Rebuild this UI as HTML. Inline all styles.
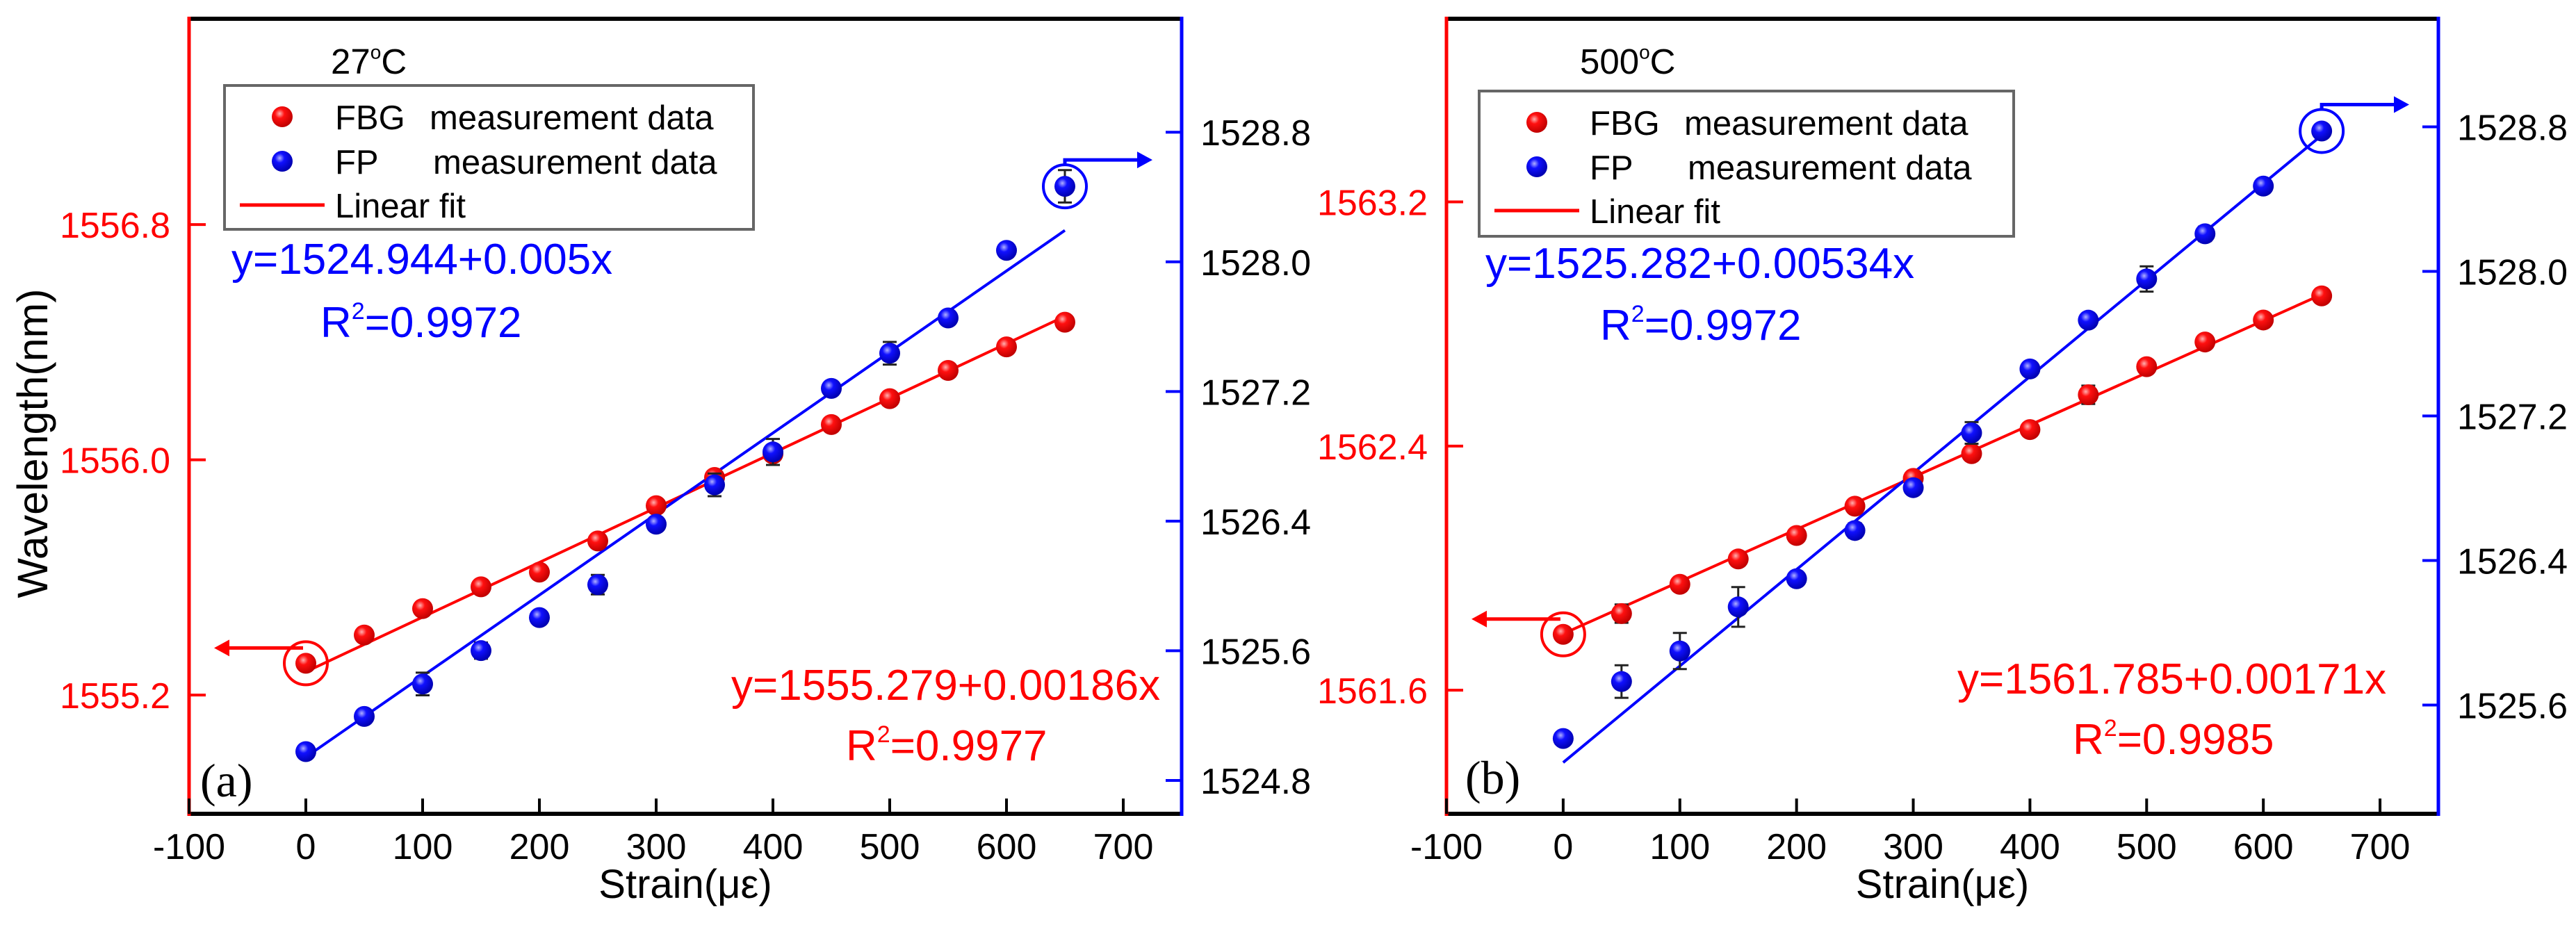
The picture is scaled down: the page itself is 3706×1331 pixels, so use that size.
<!DOCTYPE html>
<html><head><meta charset="utf-8"><title>FBG/FP strain</title>
<style>html,body{margin:0;padding:0;background:#fff;}svg{display:block;font-family:"Liberation Sans",Arial,sans-serif;}</style>
</head><body>
<svg id="chart" xmlns="http://www.w3.org/2000/svg" width="3706" height="1331" viewBox="0 0 3706 1331">
<defs>
<radialGradient id="gRed" cx="0.38" cy="0.35" r="0.65"><stop offset="0" stop-color="#ffb0b0"/><stop offset="0.35" stop-color="#ff1010"/><stop offset="1" stop-color="#c00000"/></radialGradient>
<radialGradient id="gBlue" cx="0.38" cy="0.35" r="0.65"><stop offset="0" stop-color="#b0b0ff"/><stop offset="0.35" stop-color="#1010ff"/><stop offset="1" stop-color="#0000b0"/></radialGradient>
</defs>
</svg>
<script>
const strain = [0,50,100,150,200,250,300,350,400,450,500,550,600,650];
const xTicks = [-100,0,100,200,300,400,500,600,700];
// panel (a) 27 C
const fbgA = [1555.308,1555.404,1555.494,1555.568,1555.618,1555.724,1555.844,1555.94,1556.02,1556.12,1556.208,1556.304,1556.384,1556.468];
const fbgErrA = [0.015,0.012,0.015,0.015,0.015,0.015,0.015,0.02,0.02,0.02,0.015,0.015,0.015,0.015];
const fpA = [1524.978,1525.195,1525.395,1525.601,1525.805,1526.008,1526.381,1526.624,1526.827,1527.219,1527.436,1527.654,1528.071,1528.466];
const fpErrA = [0.02,0.03,0.07,0.05,0.03,0.06,0.04,0.07,0.08,0.02,0.07,0.03,0.02,0.1];
const fitFbgA = [1555.279,0.00186];
const fitFpA = [1524.944,0.005];
const leftTicksA = [1555.2,1556.0,1556.8];
const rightTicksA = [1524.8,1525.6,1526.4,1527.2,1528.0,1528.8];
// panel (b) 500 C
const fbgB = [1561.783,1561.851,1561.947,1562.03,1562.107,1562.203,1562.294,1562.375,1562.454,1562.568,1562.66,1562.741,1562.813,1562.892];
const fbgErrB = [0.02,0.03,0.02,0.02,0.02,0.02,0.02,0.02,0.02,0.03,0.02,0.02,0.02,0.02];
const fpB = [1525.415,1525.73,1525.899,1526.143,1526.299,1526.566,1526.803,1527.106,1527.46,1527.73,1527.958,1528.208,1528.472,1528.777];
const fpErrB = [0.03,0.09,0.1,0.11,0.03,0.04,0.03,0.06,0.02,0.02,0.07,0.04,0.02,0.03];
const fitFbgB = [1561.785,0.00171];
const fitFpB = [1525.282,0.00534];
const leftTicksB = [1561.6,1562.4,1563.2];
const rightTicksB = [1525.6,1526.4,1527.2,1528.0,1528.8];

const NS = "http://www.w3.org/2000/svg";
const svg = document.getElementById("chart");
function mk(tag, attrs, parent, txt) {
  const e = document.createElementNS(NS, tag);
  for (const k in attrs) e.setAttribute(k, attrs[k]);
  if (txt !== undefined) e.textContent = txt;
  (parent || svg).appendChild(e);
  return e;
}
function supText(parent, x, y, size, color, pre, sup, post, anchor) {
  const t = mk("text", {x:x, y:y, "font-size":size, fill:color, "text-anchor":anchor||"start"}, parent);
  mk("tspan", {}, t, pre);
  mk("tspan", {"font-size":Math.round(size*0.55), dy:-size*0.42}, t, sup);
  mk("tspan", {dy:size*0.42}, t, post);
  return t;
}

function panel(p) {
  const g = mk("g", {});
  
  
  const top = 27, bot = 1171, x0 = p.x0, x1 = p.x1;
  const X = v => x0 + (v + 100) / 850 * (x1 - x0);
  const YL = v => top + (p.lmax - v) / (p.lmax - p.lmin) * (bot - top);
  const YR = v => top + (p.rmax - v) / (p.rmax - p.rmin) * (bot - top);

  // frame
  const ft = mk("line", {x1:x0, y1:top, x2:x1, y2:top, stroke:"#000", "stroke-width":6}, g);
  
  
  const fb = mk("line", {x1:x0, y1:bot, x2:x1, y2:bot, stroke:"#000", "stroke-width":6}, g);
  
  
  const la = mk("line", {x1:x0, y1:top-3, x2:x0, y2:bot+3, stroke:"#ff0000", "stroke-width":5}, g);
  
  
  const ra = mk("line", {x1:x1, y1:top-3, x2:x1, y2:bot+3, stroke:"#0000ff", "stroke-width":5}, g);
  
  

  // x ticks
  xTicks.forEach(v => {
    const tk = mk("line", {x1:X(v), y1:bot, x2:X(v), y2:bot-22, stroke:"#000", "stroke-width":4}, g);
    
    
    const tl = mk("text", {x:X(v), y:1236, "font-size":52, fill:"#000", "text-anchor":"middle"}, g, String(v));
    
    
  });
  p.lt.forEach(v => {
    const tk = mk("line", {x1:x0, y1:YL(v), x2:x0+24, y2:YL(v), stroke:"#ff0000", "stroke-width":4}, g);
    
    
    const tl = mk("text", {x:x0-27, y:YL(v)+19, "font-size":52, fill:"#ff0000", "text-anchor":"end"}, g, v.toFixed(1));
    
    
  });
  p.rt.forEach(v => {
    const tk = mk("line", {x1:x1, y1:YR(v), x2:x1-23, y2:YR(v), stroke:"#0000ff", "stroke-width":4}, g);
    
    
    const tl = mk("text", {x:x1+27, y:YR(v)+19, "font-size":52, fill:"#000", "text-anchor":"start"}, g, v.toFixed(1));
    
    
  });

  // x axis title
  const xt = mk("text", {x:(x0+x1)/2 - 0, y:1292, "font-size":58, fill:"#000", "text-anchor":"middle"}, g, "Strain(με)");
  
  

  // fit lines
  const rf = mk("line", {x1:X(0), y1:YL(p.fitFbg[0]), x2:X(650), y2:YL(p.fitFbg[0]+p.fitFbg[1]*650), stroke:"#ff0000", "stroke-width":4}, g);
  
  
  const bf = mk("line", {x1:X(0), y1:YR(p.fitFp[0]), x2:X(650), y2:YR(p.fitFp[0]+p.fitFp[1]*650), stroke:"#0000ff", "stroke-width":4}, g);
  
  

  // points
  function series(vals, errs, Y, grad, nm) {
    strain.forEach((s, i) => {
      const cx = X(s), cy = Y(vals[i]);
      const y1 = Y(vals[i] + errs[i]), y2 = Y(vals[i] - errs[i]);
      const eb = mk("path", {d:`M${cx},${y1}V${y2}M${cx-10},${y1}H${cx+10}M${cx-10},${y2}H${cx+10}`, stroke:"#222", "stroke-width":3, fill:"none"}, g);
      
      
      const c = mk("circle", {cx:cx, cy:cy, r:15, fill:`url(#${grad})`}, g);
      
      
    });
  }
  series(p.fbg, p.fbgErr, YL, "gRed", "fbg");
  series(p.fp, p.fpErr, YR, "gBlue", "fp");

  // annotation circles + arrows
  const rcx = X(0), rcy = YL(p.fbg[0]);
  const rc = mk("circle", {cx:rcx, cy:rcy, r:31, fill:"none", stroke:"#ff0000", "stroke-width":4}, g);
  
  
  const ay = rcy - 22;
  const rarr = mk("path", {d:`M${rcx-4},${ay}H${x0+48}`, stroke:"#ff0000", "stroke-width":5, fill:"none"}, g);
  
  
  const rhead = mk("path", {d:`M${x0+36},${ay}l22,-12v24z`, fill:"#ff0000"}, g);
  
  

  const bcx = X(650), bcy = YR(p.fp[13]);
  const bc = mk("circle", {cx:bcx, cy:bcy, r:31, fill:"none", stroke:"#0000ff", "stroke-width":4}, g);
  
  
  const by = bcy - 38;
  const barr = mk("path", {d:`M${bcx},${by+6}V${by}H${x1-55}`, stroke:"#0000ff", "stroke-width":5, fill:"none"}, g);
  
  
  const bhead = mk("path", {d:`M${x1-42},${by}l-22,-12v24z`, fill:"#0000ff"}, g);
  
  

  // temperature label
  const tt = supText(g, p.tempX, 106, 51, "#000", p.temp, "o", "C");
  
  

  // legend
  const L = p.leg;
  const lb = mk("rect", {x:L.x, y:L.y, width:L.w, height:L.h, fill:"#fff", stroke:"#666", "stroke-width":4}, g);
  
  
  const r1 = L.y + 45, r2 = L.y + 109, r3 = L.y + 172;
  const m1 = mk("circle", {cx:L.x+83, cy:r1, r:15, fill:"url(#gRed)"}, g);
  
  
  const t1 = mk("text", {x:L.x+159, y:r1+18, "font-size":49, fill:"#000"}, g, "FBG");
  
  
  const t1b = mk("text", {x:L.x+295, y:r1+18, "font-size":49, fill:"#000"}, g, "measurement data");
  
  
  const m2 = mk("circle", {cx:L.x+83, cy:r2, r:15, fill:"url(#gBlue)"}, g);
  
  
  const t2 = mk("text", {x:L.x+159, y:r2+18, "font-size":49, fill:"#000"}, g, "FP");
  
  
  const t2b = mk("text", {x:L.x+300, y:r2+18, "font-size":49, fill:"#000"}, g, "measurement data");
  
  
  const m3 = mk("line", {x1:L.x+22, y1:r3, x2:L.x+144, y2:r3, stroke:"#ff0000", "stroke-width":5}, g);
  
  
  const t3 = mk("text", {x:L.x+159, y:r3+18, "font-size":49, fill:"#000"}, g, "Linear fit");
  
  

  // equations
  const e1 = mk("text", {x:p.be.x, y:p.be.y, "font-size":62, fill:"#0000ff"}, g, p.be.t);
  
  
  const e2 = supText(g, p.br.x, p.br.y, 62, "#0000ff", "R", "2", p.br.t);
  
  
  const e3 = mk("text", {x:p.re.x, y:p.re.y, "font-size":62, fill:"#ff0000"}, g, p.re.t);
  
  
  const e4 = supText(g, p.rr.x, p.rr.y, 62, "#ff0000", "R", "2", p.rr.t);
  
  

  const pl = mk("text", {x:p.lab.x, y:p.lab.y, "font-size":68, fill:"#000", "font-family":"Liberation Serif, serif"}, g, p.lab.t);
  
  
}

panel({name:"panel-a-27c", x0:272, x1:1700, lmin:1554.796, lmax:1557.5, rmin:1524.594, rmax:1529.5,
  lt:leftTicksA, rt:rightTicksA, fbg:fbgA, fbgErr:fbgErrA, fp:fpA, fpErr:fpErrA, fitFbg:fitFbgA, fitFp:fitFpA,
  temp:"27", tempX:476, leg:{x:323, y:123, w:761, h:207},
  be:{x:333, y:394, t:"y=1524.944+0.005x"}, br:{x:461, y:485, t:"=0.9972"},
  re:{x:1052, y:1007, t:"y=1555.279+0.00186x"}, rr:{x:1217, y:1094, t:"=0.9977"},
  lab:{x:288, y:1146, t:"(a)"}});
panel({name:"panel-b-500c", x0:2081, x1:3508, lmin:1561.195, lmax:1563.8, rmin:1524.998, rmax:1529.398,
  lt:leftTicksB, rt:rightTicksB, fbg:fbgB, fbgErr:fbgErrB, fp:fpB, fpErr:fpErrB, fitFbg:fitFbgB, fitFp:fitFpB,
  temp:"500", tempX:2273, leg:{x:2128, y:131, w:769, h:209},
  be:{x:2137, y:400, t:"y=1525.282+0.00534x"}, br:{x:2302, y:489, t:"=0.9972"},
  re:{x:2816, y:998, t:"y=1561.785+0.00171x"}, rr:{x:2982, y:1085, t:"=0.9985"},
  lab:{x:2108, y:1142, t:"(b)"}});

const yt = mk("text", {x:0, y:0, "font-size":61, fill:"#000", "text-anchor":"middle", transform:"translate(68,638) rotate(-90)"}, svg, "Wavelength(nm)");


</script>
</body></html>
